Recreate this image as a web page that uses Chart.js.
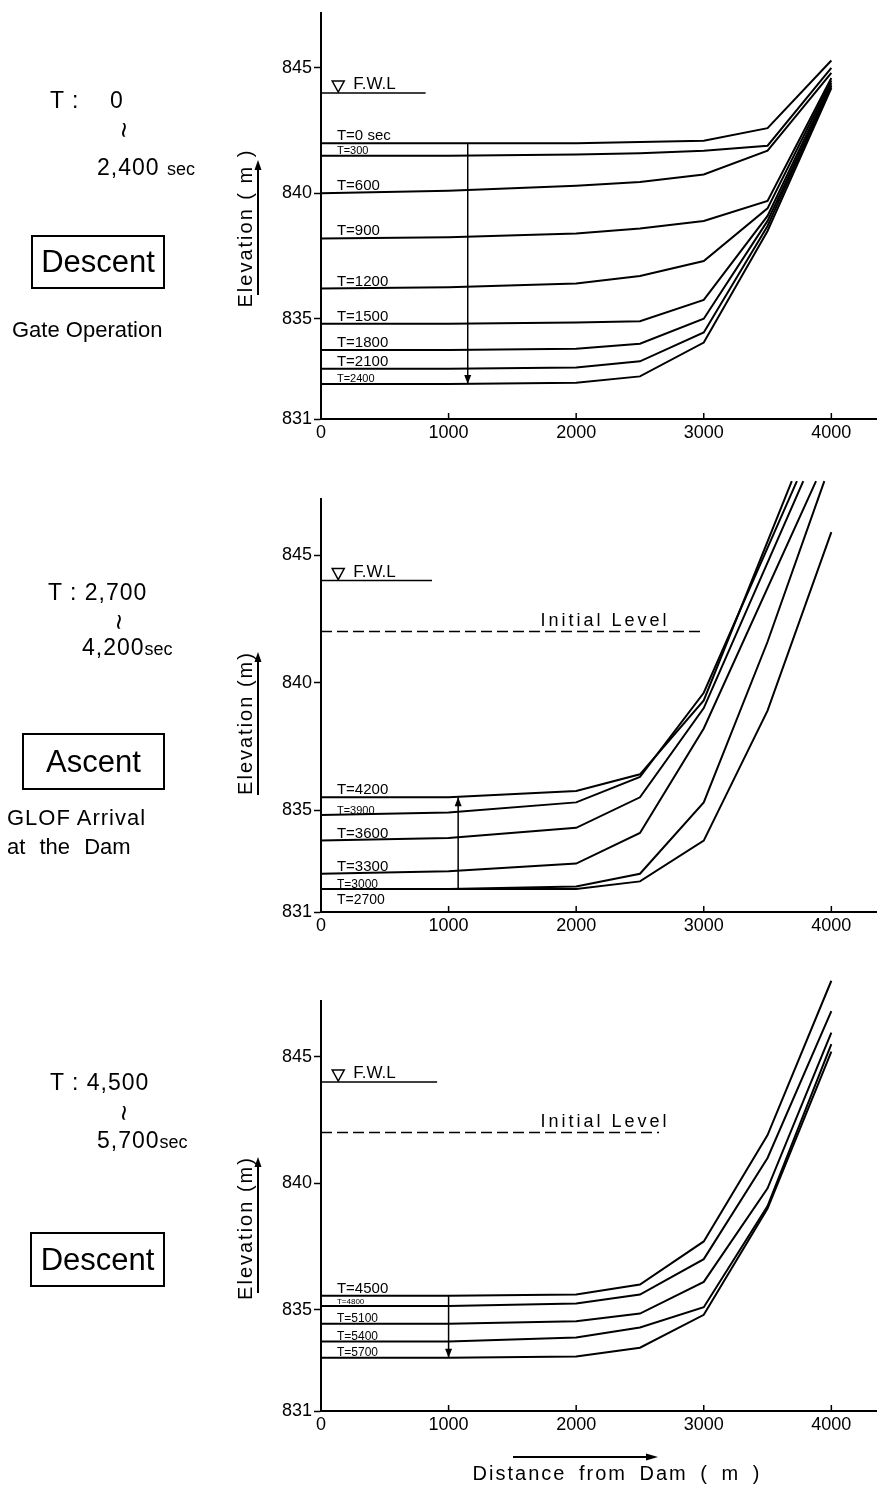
<!DOCTYPE html>
<html>
<head>
<meta charset="utf-8">
<title>Reservoir water surface profiles</title>
<script src="https://cdn.jsdelivr.net/npm/chart.js@4.4.1/dist/chart.umd.min.js"></script>
<style>
  body { margin: 0; width: 881px; height: 1490px; position: relative; overflow: hidden; background: #fff; color: #000;
         font-family: 'Liberation Sans', Arial, sans-serif; }
  canvas { position: absolute; left: 0; }
  .note { position: absolute; white-space: nowrap; line-height: 1; transform: translateY(-50%); font-size: 22px; }
  .num { letter-spacing: 1px; font-size: 23px; }
  .note small { font-size: 18px; letter-spacing: 0; }
  .wave { position: absolute; line-height: 1; font-size: 28px; transform: translate(-50%, -50%) rotate(90deg); }
  .box { position: absolute; border: 2px solid #000; box-sizing: border-box; font-size: 31px;
         display: flex; align-items: center; justify-content: center; }
  .ytitle { position: absolute; left: 245px; white-space: nowrap; line-height: 1; font-size: 20px; letter-spacing: 2px;
            transform: translate(-50%, -50%) rotate(-90deg); }
  .xtitle { position: absolute; left: 617px; top: 1473px; white-space: nowrap; line-height: 1; font-size: 20px;
            letter-spacing: 2px; word-spacing: 5px; transform: translate(-50%, -50%); }
</style>
</head>
<body>
<canvas id="gate" width="881" height="470" style="top:0"></canvas>
<canvas id="glof" width="881" height="480" style="top:480px"></canvas>
<canvas id="release" width="881" height="530" style="top:960px"></canvas>

<!-- left column notes -->
<div class="note num" style="left:50px;top:100px">T :</div>
<div class="note num" style="left:110px;top:100px">0</div>
<div class="wave" style="left:123px;top:130px">~</div>
<div class="note num" style="left:97px;top:167px">2,400 <small>sec</small></div>
<div class="box" style="left:31px;top:235px;width:134px;height:54px">Descent</div>
<div class="note" style="left:12px;top:330px">Gate Operation</div>

<div class="note num" style="left:48px;top:592px">T : 2,700</div>
<div class="wave" style="left:118px;top:622px">~</div>
<div class="note num" style="left:82px;top:647px">4,200<small>sec</small></div>
<div class="box" style="left:22px;top:733px;width:143px;height:57px">Ascent</div>
<div class="note" style="left:7px;top:818px;letter-spacing:1px">GLOF Arrival</div>
<div class="note" style="left:7px;top:847px;word-spacing:8px">at the Dam</div>

<div class="note num" style="left:50px;top:1082px">T : 4,500</div>
<div class="wave" style="left:123px;top:1113px">~</div>
<div class="note num" style="left:97px;top:1140px">5,700<small>sec</small></div>
<div class="box" style="left:30px;top:1232px;width:135px;height:55px">Descent</div>

<div class="ytitle" style="top:228px">Elevation ( m )</div>
<div class="ytitle" style="top:723px">Elevation (m)</div>
<div class="ytitle" style="top:1228px">Elevation (m)</div>
<div class="xtitle">Distance from Dam ( m )</div>

<script>
const FONT = "'Liberation Sans', Arial, sans-serif";

// water surface elevation (m) against distance upstream of the dam (m)
const gateTimes = ['T=0 sec', 'T=300', 'T=600', 'T=900', 'T=1200', 'T=1500', 'T=1800', 'T=2100', 'T=2400'];
const gateDist = [0, 1000, 2000, 2500, 3000, 3500, 4000];
const gateElev = [
  [842.0, 842.0, 842.0, 842.05, 842.1, 842.6, 845.3],
  [841.5, 841.5, 841.55, 841.6, 841.7, 841.9, 845.0],
  [840.0, 840.1, 840.3, 840.45, 840.75, 841.7, 844.8],
  [838.2, 838.25, 838.4, 838.6, 838.9, 839.7, 844.6],
  [836.2, 836.25, 836.4, 836.7, 837.3, 839.4, 844.5],
  [834.8, 834.8, 834.85, 834.9, 835.75, 839.1, 844.4],
  [833.75, 833.75, 833.8, 834.0, 835.0, 838.9, 844.3],
  [833.0, 833.0, 833.05, 833.3, 834.45, 838.7, 844.3],
  [832.4, 832.4, 832.45, 832.7, 834.05, 838.5, 844.2]
];

// GLOF arrival: upstream ends run off the top of the plot
const glofTimes = ['T=4200', 'T=3900', 'T=3600', 'T=3300', 'T=3000', 'T=2700'];
const glofDist = [
  [0, 1000, 2000, 2500, 3000, 3690],
  [0, 1000, 2000, 2500, 3000, 3730],
  [0, 1000, 2000, 2500, 3000, 3780],
  [0, 1000, 2000, 2500, 3000, 3880],
  [0, 1000, 2000, 2500, 3000, 3500, 3945],
  [0, 1000, 2000, 2500, 3000, 3500, 4000]
];
const glofElev = [
  [835.5, 835.5, 835.75, 836.4, 839.3, 847.9],
  [834.8, 834.9, 835.3, 836.3, 839.6, 847.9],
  [833.8, 833.9, 834.3, 835.5, 839.0, 847.9],
  [832.5, 832.6, 832.9, 834.1, 838.2, 847.9],
  [831.9, 831.9, 832.0, 832.5, 835.3, 841.6, 847.9],
  [831.9, 831.9, 831.9, 832.2, 833.8, 838.9, 845.9]
];

const releaseTimes = ['T=4500', 'T=4800', 'T=5100', 'T=5400', 'T=5700'];
const releaseDist = [0, 1000, 2000, 2500, 3000, 3500, 4000];
const releaseElev = [
  [835.55, 835.55, 835.6, 836.0, 837.7, 841.9, 848.0],
  [835.15, 835.15, 835.25, 835.6, 837.0, 841.0, 846.8],
  [834.45, 834.45, 834.55, 834.85, 836.1, 839.8, 845.95],
  [833.75, 833.75, 833.9, 834.3, 835.1, 839.1, 845.5],
  [833.1, 833.1, 833.15, 833.5, 834.8, 839.0, 845.2]
];

const fwlLevel = 844;
const initialLevel = 842;
const fwlReach = [820, 870, 910];
const initialReach = [null, 3000, 2650];
const arrowDist = [1150, 1075, 1000];

const xTicks = [0, 1000, 2000, 3000, 4000];
const yTicks = [831, 835, 840, 845];

// labels, inward x ticks, F.W.L marker, arrowheads, title arrows
const profileMarks = {
  id: 'profileMarks',
  afterDatasetsDraw(chart, args, o) {
    const ctx = chart.ctx, x = chart.scales.x, y = chart.scales.y, area = chart.chartArea;
    ctx.save();
    ctx.fillStyle = '#000';
    ctx.strokeStyle = '#000';
    ctx.lineWidth = 1.5;

    xTicks.slice(1).forEach(v => {
      const px = x.getPixelForValue(v);
      ctx.beginPath(); ctx.moveTo(px, area.bottom); ctx.lineTo(px, area.bottom - 6); ctx.stroke();
    });

    const lx = x.getPixelForValue(125);
    o.times.forEach((t, i) => {
      const py = y.getPixelForValue(o.elev[i][0]);
      ctx.font = o.labelSize[i] + 'px ' + FONT;
      ctx.textAlign = 'left';
      if (o.below.includes(i)) {
        ctx.textBaseline = 'top';
        ctx.fillText(t, lx, py + 4);
      } else {
        ctx.textBaseline = 'alphabetic';
        ctx.fillText(t, lx, py - (o.labelSize[i] > 12 ? 3 : 1.5));
      }
    });

    // F.W.L marker
    const fx = x.getPixelForValue(135), fy = y.getPixelForValue(fwlLevel);
    ctx.beginPath();
    ctx.moveTo(fx - 6, fy - 12); ctx.lineTo(fx + 6, fy - 12); ctx.lineTo(fx, fy - 1); ctx.closePath();
    ctx.stroke();
    ctx.font = '17px ' + FONT;
    ctx.textBaseline = 'alphabetic';
    ctx.fillText('F.W.L', fx + 15, fy - 4);

    if (o.initialReach) {
      ctx.font = '18px ' + FONT;
      ctx.letterSpacing = '3px';
      ctx.fillText('Initial Level', x.getPixelForValue(1720), y.getPixelForValue(initialLevel) - 6);
      ctx.letterSpacing = '0px';
    }

    // arrowhead on the time-sequence line
    const ax = x.getPixelForValue(o.arrowX), ay = y.getPixelForValue(o.arrowTo);
    const d = o.arrowTo < o.arrowFrom ? 1 : -1;
    ctx.beginPath();
    ctx.moveTo(ax, ay); ctx.lineTo(ax - 3.5, ay - d * 9); ctx.lineTo(ax + 3.5, ay - d * 9); ctx.closePath();
    ctx.fill();

    // arrow beside the elevation title
    ctx.lineWidth = 2;
    ctx.beginPath(); ctx.moveTo(258, o.titleArrow[1]); ctx.lineTo(258, o.titleArrow[0] + 6); ctx.stroke();
    ctx.beginPath();
    ctx.moveTo(258, o.titleArrow[0]); ctx.lineTo(254.5, o.titleArrow[0] + 10); ctx.lineTo(261.5, o.titleArrow[0] + 10); ctx.closePath();
    ctx.fill();

    if (o.distArrow) {
      const [x0, x1, yy] = o.distArrow;
      ctx.beginPath(); ctx.moveTo(x0, yy); ctx.lineTo(x1 - 6, yy); ctx.stroke();
      ctx.beginPath(); ctx.moveTo(x1, yy); ctx.lineTo(x1 - 12, yy - 3.5); ctx.lineTo(x1 - 12, yy + 3.5); ctx.closePath();
      ctx.fill();
    }
    ctx.restore();
  }
};

function seriesPoints(dist, elev) {
  return elev.map((v, k) => ({ x: dist[k], y: v }));
}

function buildPanel(p, idx) {
  const datasets = p.elev.map((row, i) => ({
    label: p.times[i],
    data: seriesPoints(Array.isArray(p.dist[0]) ? p.dist[i] : p.dist, row),
    borderColor: '#000', borderWidth: 2, pointRadius: 0, tension: 0, fill: false, clip: false
  }));
  datasets.push({
    label: 'F.W.L',
    data: [{ x: 0, y: fwlLevel }, { x: fwlReach[idx], y: fwlLevel }],
    borderColor: '#000', borderWidth: 1.5, pointRadius: 0
  });
  if (initialReach[idx]) {
    datasets.push({
      label: 'Initial Level',
      data: [{ x: 0, y: initialLevel }, { x: initialReach[idx], y: initialLevel }],
      borderColor: '#000', borderWidth: 1.5, borderDash: [11, 5], pointRadius: 0
    });
  }
  const first = p.elev[0][0], last = p.elev[p.elev.length - 1][0];
  const arrowFrom = p.arrowUp ? last : first, arrowTo = p.arrowUp ? first : last;
  datasets.push({
    label: 'sequence',
    data: [{ x: arrowDist[idx], y: arrowFrom }, { x: arrowDist[idx], y: arrowTo }],
    borderColor: '#000', borderWidth: 1.5, pointRadius: 0
  });

  new Chart(document.getElementById(p.id), {
    type: 'line',
    data: { datasets: datasets },
    plugins: [profileMarks],
    options: {
      responsive: false,
      animation: false,
      layout: { padding: { top: p.areaTop, right: 5, left: 0, bottom: 0 } },
      plugins: {
        legend: { display: false },
        tooltip: { enabled: false },
        profileMarks: {
          times: p.times, elev: p.elev, labelSize: p.labelSize, below: p.below,
          initialReach: initialReach[idx], arrowX: arrowDist[idx], arrowFrom: arrowFrom, arrowTo: arrowTo,
          titleArrow: p.titleArrow, distArrow: p.distArrow
        }
      },
      scales: {
        x: {
          type: 'linear', min: 0, max: 4350,
          border: { color: '#000', width: 2 },
          grid: { drawOnChartArea: false, drawTicks: false },
          ticks: { color: '#000', padding: 3, font: { family: FONT, size: 18 }, maxRotation: 0,
                   callback: v => String(v) },
          afterBuildTicks: s => { s.ticks = xTicks.map(v => ({ value: v })); },
          afterFit: s => { s.height = p.axisH; }
        },
        y: {
          min: 831, max: 847.2,
          border: { color: '#000', width: 2 },
          grid: { drawOnChartArea: false, tickLength: 7, tickWidth: 1.5, tickColor: '#000' },
          ticks: { color: '#000', padding: 2, font: { family: FONT, size: 18 } },
          afterBuildTicks: s => { s.ticks = yTicks.map(v => ({ value: v })); },
          afterFit: s => { s.width = 321; }
        }
      }
    }
  });
}

[
  { id: 'gate', times: gateTimes, dist: gateDist, elev: gateElev, areaTop: 4, axisH: 51,
    labelSize: [15, 11, 15, 15, 15, 15, 15, 15, 11], below: [], arrowUp: false, titleArrow: [160, 295] },
  { id: 'glof', times: glofTimes, dist: glofDist, elev: glofElev, areaTop: 19, axisH: 48,
    labelSize: [15, 11, 15, 15, 12, 14], below: [5], arrowUp: true, titleArrow: [172, 315] },
  { id: 'release', times: releaseTimes, dist: releaseDist, elev: releaseElev, areaTop: 41, axisH: 79,
    labelSize: [15, 8, 12, 12, 12], below: [], arrowUp: false, titleArrow: [197, 333], distArrow: [513, 658, 497] }
].forEach(buildPanel);
</script>
</body>
</html>
